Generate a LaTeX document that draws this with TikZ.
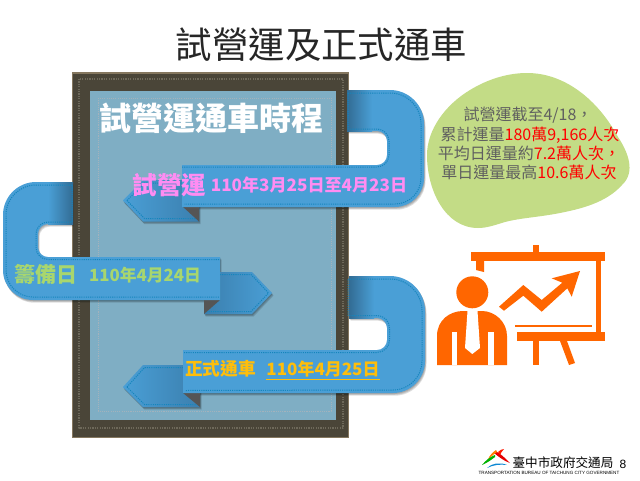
\documentclass[tikz,border=0pt]{standalone}
\usepackage{fontspec}
\setmainfont{Liberation Sans}
\newfontfamily\cjk{Noto Sans CJK TC}
\definecolor{ribbonblue}{HTML}{4A9FD6}
\definecolor{ribbondark}{HTML}{3B7FAE}
\definecolor{stitchblue}{HTML}{1585BC}
\definecolor{panelblue}{HTML}{7FAEC4}
\definecolor{framebrown}{HTML}{4A4538}
\definecolor{frameedge}{HTML}{85775F}
\definecolor{framedot}{HTML}{6E695A}
\definecolor{paneldot}{HTML}{A3B2BC}
\definecolor{foldgray}{HTML}{555555}
\definecolor{blobgreen}{HTML}{C3DC86}
\definecolor{iconorange}{HTML}{FF6600}
\definecolor{pinktext}{HTML}{FF8CF2}
\definecolor{greentext}{HTML}{A8D66E}
\definecolor{ambertext}{HTML}{FFBE0A}
\definecolor{graytext}{HTML}{606060}
% ribbon outlines, used for the fill and for its shadow
\newcommand{\ribbonA}{(347,90) -- (390,90) arc[start angle=-90,end angle=0,radius=34]
    -- (424,178) arc[start angle=0,end angle=90,radius=29] -- (182,207) -- (182,165) -- (377,165)
    arc[start angle=90,end angle=0,radius=10] -- (387,141) arc[start angle=0,end angle=-90,radius=10]
    -- (347,131) -- cycle}
\newcommand{\ribbonB}{(72,182) -- (36,182) arc[start angle=-90,end angle=-180,radius=33] -- (3,270)
    arc[start angle=180,end angle=90,radius=30] -- (220,300) -- (220,257) -- (48,257)
    arc[start angle=90,end angle=180,radius=10] -- (38,234) arc[start angle=180,end angle=270,radius=10]
    -- (72,224) -- cycle}
\newcommand{\ribbonC}{(349,276) -- (390,276) arc[start angle=-90,end angle=0,radius=35]
    -- (425,361) arc[start angle=0,end angle=90,radius=32] -- (183,393) -- (183,350) -- (377,350)
    arc[start angle=90,end angle=0,radius=10] -- (387,328) arc[start angle=0,end angle=-90,radius=10]
    -- (349,318) -- cycle}
\newcommand{\tailA}{(123,200.5) -- (143,180) -- (199,180) -- (199,221.5) -- (143,221.5) -- cycle}
\newcommand{\tailB}{(204,314) -- (204,272) -- (252,272) -- (272,293) -- (252,314) -- cycle}
\newcommand{\tailC}{(123,387) -- (143,365) -- (200,365) -- (200,407) -- (143,407) -- cycle}
\begin{document}
\begin{tikzpicture}[
  x=1pt,y=-1pt,
  line join=round,
  ribbon/.style={fill=ribbonblue,draw=none},
  softshadow/.style={fill=black,fill opacity=0.13,draw=none},
  stitch/.style={draw=stitchblue,line width=1pt,dash pattern=on 1.1pt off 1.1pt},
  fold/.style={fill=foldgray,draw=none},
  tail/.style={left color=ribbonblue,right color=ribbondark,draw=none},
  tailflip/.style={left color=ribbondark,right color=ribbonblue,draw=none},
  armshade/.style={left color=ribbondark!85!black,right color=ribbonblue,draw=none},
  icon/.style={fill=iconorange,draw=none},
  label/.style={inner sep=0pt,font=\cjk\bfseries},
  bubbletext/.style={inner sep=0pt,font=\cjk\fontsize{16}{18}\selectfont,text=graytext}
]
  \useasboundingbox (0,0) rectangle (640,480);
  \fill[white] (0,0) rectangle (640,480);

  \node[inner sep=0pt,text=black!85,font=\cjk\fontsize{36.4}{40}\selectfont] (title) at (321.5,45) {試營運及正式通車};

  % frame and panel
  \fill[frameedge] (72,72) rectangle (349,438);
  \fill[framebrown] (73,73.5) rectangle (348,436.5);
  \draw[framedot,line width=1.2pt,dash pattern=on 1.2pt off 1.2pt] (79,79) rectangle (343,428);
  \fill[panelblue] (90,91) rectangle (336,420);
  \draw[paneldot,line width=1pt,dash pattern=on 1.1pt off 1.1pt] (98,98) rectangle (331,411);

  \node[label,text=white,font=\cjk\bfseries\fontsize{32}{36}\selectfont] (heading) at (211,118) {試營運通車時程};

  % bubble
  \path[fill=blobgreen] (527,73) .. controls (565,73) and (598,100) .. (618,137)
    .. controls (628,152) and (636,172) .. (622,185)
    .. controls (606,203) and (580,209) .. (560,213)
    .. controls (540,217) and (520,218) .. (505,222)
    .. controls (495,225) and (487,228) .. (478,228)
    .. controls (445,228) and (427,190) .. (427,155)
    .. controls (427,130) and (445,105) .. (470,90)
    .. controls (488,79) and (508,73) .. (527,73) -- cycle;
  \node[bubbletext] (line1) at (528,115) {試營運截至4/18，};
  \node[bubbletext] (line2) at (530,135) {累計運量\textcolor{red}{180萬9,166人次}};
  \node[bubbletext] (line3) at (529,153) {平均日運量約\textcolor{red}{7.2萬人次，}};
  \node[bubbletext] (line4) at (529,172) {單日運量最高\textcolor{red}{10.6萬人次}};

  % first ribbon
  \foreach \d in {1,2,3} {
    \fill[softshadow,shift={(\d*0.5,\d*0.9)}] \tailA;
    \fill[softshadow,shift={(\d*0.5,\d*0.9)}] \ribbonA;
  }
  \path[tail] \tailA;
  \draw[stitch] (127,200.5) -- (144.5,183) -- (182,183);
  \draw[stitch] (127,200.5) -- (144.5,218.5) -- (197,218.5);
  \path[fold] (182,206) -- (199,206) -- (199,221.5) -- cycle;
  \path[ribbon] \ribbonA;
  \path[armshade] (347,90) rectangle (372,131);
  \draw[stitch] (348,93) -- (390,93) arc[start angle=-90,end angle=0,radius=31] -- (421,178)
    arc[start angle=0,end angle=90,radius=26] -- (184,204);
  \draw[stitch] (182,167) -- (377,167) arc[start angle=90,end angle=0,radius=12]
    -- (389,141) arc[start angle=0,end angle=-90,radius=12] -- (348,129) -- (348,93);
  \node[label,text=pinktext,font=\cjk\bfseries\fontsize{24.5}{28}\selectfont] (trial) at (169.5,185) {試營運};
  \node[label,text=pinktext,font=\cjk\bfseries\fontsize{17.1}{18}\selectfont] (trialdate) at (309,185) {110年3月25日至4月23日};

  % second ribbon
  \foreach \d in {1,2,3} {
    \fill[softshadow,shift={(\d*0.5,\d*0.9)}] \tailB;
    \fill[softshadow,shift={(\d*0.5,\d*0.9)}] \ribbonB;
  }
  \path[tailflip] \tailB;
  \draw[stitch] (220,274.5) -- (251,274.5) -- (268.5,293) -- (251,311.5) -- (206,311.5);
  \path[fold] (220,300) -- (204,300) -- (204,314) -- cycle;
  \path[ribbon] \ribbonB;
  \path[left color=ribbonblue,right color=ribbondark!85!black] (48,182) rectangle (73,224);
  \draw[stitch] (72,185) -- (36,185) arc[start angle=-90,end angle=-180,radius=30] -- (6,270)
    arc[start angle=180,end angle=90,radius=27] -- (219,297);
  \draw[stitch] (219,259.5) -- (48,259.5) arc[start angle=90,end angle=180,radius=12]
    -- (36,234) arc[start angle=180,end angle=270,radius=12] -- (72,222) -- (72,185);
  \node[label,text=greentext,font=\cjk\bfseries\fontsize{21}{24}\selectfont] (prep) at (45.5,275) {籌備日};
  \node[label,text=greentext,font=\cjk\bfseries\fontsize{16.8}{18}\selectfont] (prepdate) at (145,275) {110年4月24日};

  % third ribbon
  \foreach \d in {1,2,3} {
    \fill[softshadow,shift={(\d*0.5,\d*0.9)}] \tailC;
    \fill[softshadow,shift={(\d*0.5,\d*0.9)}] \ribbonC;
  }
  \path[tail] \tailC;
  \draw[stitch] (127,387) -- (144.5,367.5) -- (183,367.5);
  \draw[stitch] (127,387) -- (144.5,404.5) -- (198,404.5);
  \path[fold] (183,393) -- (200,393) -- (200,407) -- cycle;
  \path[ribbon] \ribbonC;
  \path[armshade] (349,276) rectangle (374,318);
  \draw[stitch] (348,279) -- (390,279) arc[start angle=-90,end angle=0,radius=32] -- (422,361)
    arc[start angle=0,end angle=90,radius=29] -- (185,390.5);
  \draw[stitch] (184,352.5) -- (377,352.5) arc[start angle=90,end angle=0,radius=12.5]
    -- (389.5,328) arc[start angle=0,end angle=-90,radius=12.5] -- (348,315.5) -- (348,279);
  \node[label,text=ambertext,font=\cjk\bfseries\fontsize{17.7}{20}\selectfont] (open) at (220.5,369) {正式通車};
  \node[label,text=ambertext,font=\cjk\bfseries\fontsize{17}{18}\selectfont] (opendate) at (323,369) {110年4月25日};
  \draw[ambertext,line width=0.8pt] (266,379) -- (380,379);

  % presenter icon
  \fill[icon] (471,252) rectangle (605,261);
  \fill[icon] (533,245) rectangle (539,252);
  \fill[icon] (476,261) -- (484,261) -- (484,272) -- (476,270) -- cycle;
  \fill[icon] (596,261) rectangle (601,332);
  \fill[icon] (517,332) rectangle (605,341);
  \fill[icon] (515,324.5) rectangle (592,327);
  \fill[icon] (533,341) rectangle (539,365);
  \fill[icon] (560,341) -- (567,341) -- (575,363) -- (569,365) -- cycle;
  \fill[icon] (499,306.7) -- (523.3,285) -- (541.7,300) -- (562.3,282.7) -- (551.7,278.3) -- (580,271)
    -- (571.7,296.7) -- (567.3,288.3) -- (541.7,311.7) -- (523.3,295.7) -- (504,310.7) -- cycle;
  \fill[icon] (472.3,292.3) circle[radius=16];
  \fill[icon] (437,365) -- (437,336) .. controls (437,320) and (450,311) .. (463,311)
    -- (482,311) .. controls (495,311) and (507,322) .. (507,336) -- (507,365) -- cycle;
  \fill[white] (467.5,311) -- (477.5,311) -- (480,348) -- (472.3,354) -- (465,348) -- cycle;
  \fill[white] (451.5,332) rectangle (457,365);
  \fill[white] (487.5,332) rectangle (493.5,365);

  % logo
  \fill[red!90!black] (495,451) .. controls (500,453) and (505,458) .. (510,463) .. controls (504,461) and (499,457) .. (494,453) -- cycle;
  \fill[red!80!orange] (498,452) .. controls (500,450) and (502,449) .. (504,449) .. controls (502,451) and (501,453) .. (500,455) -- cycle;
  \fill[orange] (488,459) .. controls (490,455) and (493,452) .. (496,450) -- (497,452) .. controls (494,454) and (491,457) .. (488,459) -- cycle;
  \fill[green!70!black] (482,465) .. controls (486,460) and (490,457) .. (495,455) -- (495,457) .. controls (491,460) and (487,463) .. (482,465) -- cycle;
  \fill[cyan!70!blue] (487,468) .. controls (492,463) and (500,462) .. (507,465) .. controls (500,464) and (493,465) .. (487,468) -- cycle;
  \node[inner sep=0pt,font=\cjk\fontsize{12.6}{14}\selectfont] (logotext) at (563,463) {臺中市政府交通局};
  \node[inner sep=0pt,font=\fontsize{4.6}{5}\selectfont] (logosub) at (549,473) {TRANSPORTATION BUREAU OF TAICHUNG CITY GOVERNMENT};
  \node[inner sep=0pt,font=\fontsize{12}{14}\selectfont] (pagenum) at (623,464) {8};
\end{tikzpicture}
\end{document}
